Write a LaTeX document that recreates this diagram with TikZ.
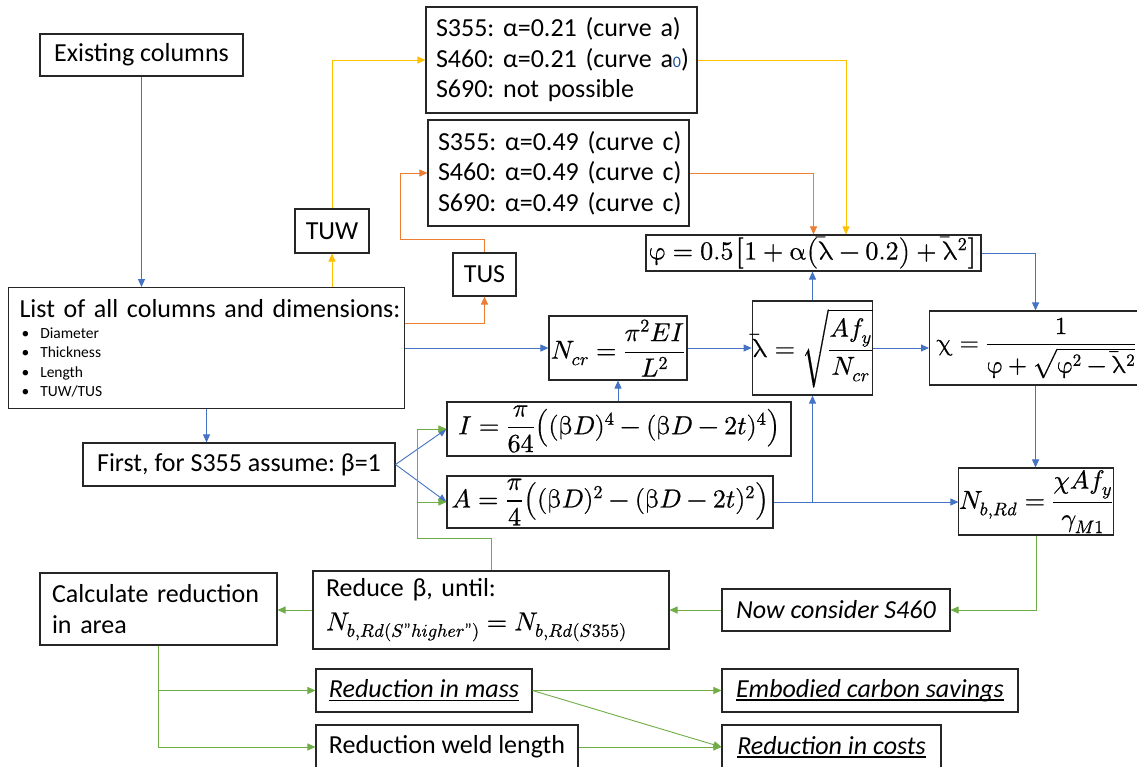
\documentclass[tikz,border=0pt]{standalone}
\usepackage{amsmath}
\usepackage{fontspec}
\usepackage{unicode-math}
\setmainfont{Carlito}
\setmathfont{Latin Modern Math}[FakeBold=0.6]
\usetikzlibrary{arrows.meta}
\frenchspacing

% delimiter a little taller than \big
\makeatletter
\newcommand\mbig{\bBigg@{1.27}}
\newcommand\sbig{\bBigg@{1.1}}
\makeatother

\definecolor{cblue}{HTML}{4472C4}
\definecolor{corange}{HTML}{ED7D31}
\definecolor{cyellow}{HTML}{FFC000}
\definecolor{cgreen}{HTML}{70AD47}
\definecolor{subblue}{HTML}{1F4E9A}

% underline drawn just below the baseline
\newsavebox\ulbox
\newcommand\uln[1]{\sbox\ulbox{#1}\rlap{\rule[-3.5pt]{\wd\ulbox}{1.5pt}}\usebox\ulbox}

\tikzset{
  box/.style={draw=black!85, line width=1.1pt, fill=white, inner sep=0pt,
    font=\fontsize{26}{30.5}\selectfont},
  eqbox/.style={box, font=\fontsize{26}{30}\selectfont},
  link/.style={line width=0.9pt, -{Triangle[length=8pt,width=7pt]}},
  blink/.style={link, draw=cblue},
  olink/.style={link, draw=corange},
  ylink/.style={link, draw=cyellow},
  glink/.style={link, draw=cgreen},
}

\begin{document}
\begin{tikzpicture}[x=1pt,y=-1pt]
\useasboundingbox (0,0) rectangle (1137,767);
\fill[white] (0,0) rectangle (1137,767);

% ---------- input boxes ----------
\node[box, minimum width=203pt, minimum height=42pt] (exist) at (141.5,55) {Existing columns};

\node[box, anchor=north west, minimum width=396pt, minimum height=121pt,
      inner xsep=11pt, text width=374pt, align=left] (list) at (8,287)
 {{\fontsize{26}{30}\selectfont\mbox{List of all columns and dimensions:}\par}
  \vspace{2pt}
  \fontsize{15.5}{19.3}\selectfont
  \hspace*{2pt}\textbullet\hspace{11pt}Diameter\par
  \hspace*{2pt}\textbullet\hspace{11pt}Thickness\par
  \hspace*{2pt}\textbullet\hspace{11pt}Length\par
  \hspace*{2pt}\textbullet\hspace{11pt}TUW/TUS\par};

\node[box, minimum width=74pt, minimum height=44pt] (tuw) at (332,231) {TUW};
\node[box, minimum width=63pt, minimum height=43pt] (tus) at (484.5,274.5) {TUS};

\node[box, minimum width=271pt, minimum height=106pt, inner xsep=10pt,
      text width=251pt, align=left] (curvea) at (561.5,60)
 {\mbox{S355: α=0.21 (curve a)}\\
  \mbox{S460: α=0.21 (curve a{\color{subblue}\fontsize{16}{16}\selectfont 0})}\\
  \mbox{S690: not possible}};

\node[box, minimum width=261pt, minimum height=106pt, inner xsep=10pt,
      text width=241pt, align=left] (curvec) at (558.5,173)
 {\mbox{S355: α=0.49 (curve c)}\\
  \mbox{S460: α=0.49 (curve c)}\\
  \mbox{S690: α=0.49 (curve c)}};

\node[box, minimum width=312pt, minimum height=43pt] (first) at (239,464.5)
 {First, for S355 assume: β=1};

% ---------- equations ----------
\node[eqbox, minimum width=335pt, minimum height=36pt] (phi) at (813.5,253)
 {$\upvarphi = 0.5\sbig[1+\upalpha\sbig(\bar{\uplambda} - 0.2\sbig) + \bar{\uplambda}^{2}\sbig]$};

\node[eqbox, minimum width=138pt, minimum height=64pt] (ncr) at (618,348)
 {$N_{cr} = \dfrac{\pi^{2}EI}{L^{2}}$};

\node[eqbox, minimum width=115pt, minimum height=94pt] (lam) at (812.5,348)
 {$\bar{\uplambda} = \sqrt{\dfrac{Af_{y}}{N_{cr}}}$};

\node[eqbox, minimum width=212pt, minimum height=74pt, anchor=west,
      font=\fontsize{24.5}{30}\selectfont] (chi) at (929,348)
 {\hspace{2pt}$\upchi = \dfrac{1}{\upvarphi + \sqrt{\upvarphi^{2} - \bar{\uplambda}^{2}}}$};

\node[eqbox, minimum width=344pt, minimum height=54pt] (ieq) at (619,429)
 {$I = \dfrac{\pi}{64}\mbig((\upbeta D)^{4} - (\upbeta D - 2t)^{4}\mbig)$};

\node[eqbox, minimum width=326pt, minimum height=52pt] (aeq) at (610,502)
 {$A = \dfrac{\pi}{4}\mbig((\upbeta D)^{2} - (\upbeta D - 2t)^{2}\mbig)$};

\node[eqbox, minimum width=154pt, minimum height=67pt] (nb) at (1036,501.5)
 {$N_{b,Rd} = \dfrac{\chi Af_{y}}{\gamma_{M1}}$};

% ---------- iteration and results ----------
\node[box, minimum width=228pt, minimum height=42pt] (now) at (836,610)
 {\textit{Now consider S460}};

\node[box, minimum width=356pt, minimum height=78pt, inner xsep=13pt,
      text width=330pt, align=left] (reduce) at (491,610)
 {\mbox{Reduce β, until:}\\[3pt]
  $N_{b,Rd(S\text{"}higher\text{"})} = N_{b,Rd(S355)}$};

\node[box, minimum width=237pt, minimum height=72pt, inner xsep=12pt,
      text width=213pt, align=left] (calc) at (158.5,609)
 {\mbox{Calculate reduction}\\\mbox{in area}};

\node[box, minimum width=216pt, minimum height=43pt] (mass) at (424,690.5)
 {\uln{\textit{Reduction in mass}}};
\node[box, minimum width=262pt, minimum height=44pt] (weld) at (447,747)
 {Reduction weld length};
\node[box, minimum width=296pt, minimum height=43pt] (emb) at (870,690.5)
 {\uln{\textit{Embodied carbon savings}}};
\node[box, minimum width=219pt, minimum height=44pt] (cost) at (831.5,747)
 {\uln{\textit{Reduction in costs}}};

% ---------- connectors: input ----------
\draw[blink] (exist.south) -- (exist.south |- list.north);
\draw[ylink] (tuw.south |- list.north) -- (tuw.south);
\draw[ylink] (tuw.north) |- (curvea.west);
\draw[ylink] (curvea.east) -| ([xshift=32.5pt]phi.north);
\draw[olink] ([yshift=25pt]list.east) -| (tus.south);
\draw[olink] (tus.north) -- ++(0,-13) -| ([xshift=-27pt]curvec.west) -- (curvec.west);
\draw[olink] (curvec.east) -| (phi.north);

% ---------- connectors: buckling chain ----------
\draw[blink] (list.east) -- (list.east -| ncr.west);
\draw[blink] (ncr.east) -- (ncr.east -| lam.west);
\draw[blink] (lam.east) -- (lam.east -| chi.west);
\draw[blink] (lam.north) -- (lam.north |- phi.south);
\draw[blink] (phi.east) -| (chi.north);
\draw[blink] (chi.south) -- (chi.south |- nb.north);
\draw[blink] (ieq.north -| ncr.south) -- (ncr.south);
\draw[blink] (aeq.east) -- (aeq.east -| nb.west);
\draw[blink] (aeq.east -| lam.south) -- (lam.south);
\draw[blink] (list.south) -- (list.south |- first.north);
\draw[blink] (first.east) -- (ieq.west);
\draw[blink] (first.east) -- (aeq.west);

% ---------- connectors: iteration ----------
\draw[glink] (nb.south) |- (now.east);
\draw[glink] (now.west) -- (reduce.east);
\draw[glink] (reduce.north) -- ++(0,-32) -| ([xshift=-29pt]ieq.west) -- (ieq.west);
\draw[glink] ([xshift=-29pt]aeq.west) -- (aeq.west);
\draw[glink] (reduce.west) -- (reduce.west -| calc.east);
\draw[glink] (calc.south) |- (weld.west);
\draw[glink] (calc.south |- mass.west) -- (mass.west);
\draw[glink] (mass.east) -- (emb.west);
\draw[glink] (mass.east) -- (cost.west);
\draw[glink] (weld.east) -- (cost.west);
\end{tikzpicture}
\end{document}
